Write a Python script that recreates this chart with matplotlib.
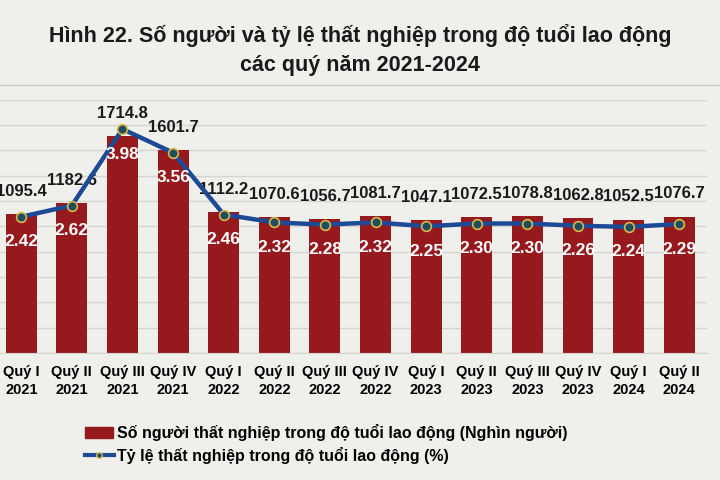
import matplotlib
matplotlib.use("Agg")
import matplotlib.pyplot as plt
from matplotlib import font_manager
import numpy as np

# Data
quarters = ["Quý I\n2021", "Quý II\n2021", "Quý III\n2021", "Quý IV\n2021",
            "Quý I\n2022", "Quý II\n2022", "Quý III\n2022", "Quý IV\n2022",
            "Quý I\n2023", "Quý II\n2023", "Quý III\n2023", "Quý IV\n2023",
            "Quý I\n2024", "Quý II\n2024"]
unemployed = [1095.4, 1182.6, 1714.8, 1601.7, 1112.2, 1070.6, 1056.7, 1081.7,
              1047.1, 1072.5, 1078.8, 1062.8, 1052.5, 1076.7]
rate = [2.42, 2.62, 3.98, 3.56, 2.46, 2.32, 2.28, 2.32,
        2.25, 2.30, 2.30, 2.26, 2.24, 2.29]

bar_label = "Số người thất nghiệp trong độ tuổi lao động (Nghìn người)"
line_label = "Tỷ lệ thất nghiệp trong độ tuổi lao động (%)"
title = "Hình 22. Số người và tỷ lệ thất nghiệp trong độ tuổi lao động\ncác quý năm 2021-2024"

# pick a narrow font if there is one
names = {f.name for f in font_manager.fontManager.ttflist}
font = "Liberation Sans Narrow" if "Liberation Sans Narrow" in names else "Liberation Sans"
plt.rcParams["font.family"] = [font, "DejaVu Sans"]

bg = "#efefec"
bar_color = "#961a1d"
line_color = "#1c4a94"

fig = plt.figure(figsize=(7.2, 4.8), dpi=100, facecolor=bg)
ax = fig.add_axes([0.0, 0.265, 0.982, 0.527], facecolor=bg)
ax2 = ax.twinx()

x = np.arange(len(quarters))
ax.bar(x, unemployed, width=0.61, color=bar_color, zorder=2)
ax.set_ylim(0, 2000)
ax.set_yticks(np.arange(0, 2001, 200))
ax.grid(axis="y", color="#d4d4d2", linewidth=1, zorder=0)
ax.set_xlim(-0.42, 13.55)
ax.set_xticks(x)
ax.set_xticklabels(quarters, fontsize=10.5, fontweight="bold", linespacing=1.3)
ax.tick_params(axis="x", length=0, pad=9)
ax.tick_params(axis="y", length=0, labelleft=False)
for s in ax.spines.values():
    s.set_visible(False)
ax.spines["bottom"].set_visible(True)
ax.spines["bottom"].set_color("#d4d4d2")

ax2.plot(x, rate, color=line_color, linewidth=3.2, marker="o", markersize=7,
         markerfacecolor="#1f4f5e", markeredgecolor="#d8b84a", markeredgewidth=1.2, zorder=3)
ax2.set_ylim(0, 4.5)
ax2.set_yticks([])
for s in ax2.spines.values():
    s.set_visible(False)

for xi, v in zip(x, unemployed):
    ax.annotate(f"{v:.1f}", (xi, v), xytext=(0, 11), textcoords="offset points",
                ha="center", va="bottom", fontsize=12, fontweight="bold", color="#1a1a1a")
for xi, v in zip(x, rate):
    ax2.annotate(f"{v:.2f}", (xi, v), xytext=(0, -18), textcoords="offset points",
                 ha="center", va="center", fontsize=12.5, fontweight="bold", color="white")

fig.text(0.5, 0.895, title, ha="center", va="center", fontsize=15.5,
         fontweight="bold", color="#1a1a1a", linespacing=1.5)
fig.add_artist(plt.Line2D([0, 1], [0.822, 0.822], color="#c8c8c6", linewidth=1))

# legend drawn by hand at the bottom
fig.patches.append(plt.Rectangle((0.118, 0.088), 0.039, 0.022, color=bar_color,
                                 transform=fig.transFigure))
fig.text(0.163, 0.099, bar_label, ha="left", va="center", fontsize=11.5, fontweight="bold")
fig.add_artist(plt.Line2D([0.118, 0.158], [0.052, 0.052], color=line_color, linewidth=3))
fig.add_artist(plt.Line2D([0.138], [0.052], marker="o", markersize=4,
                          markerfacecolor="#1f4f5e", markeredgecolor="#d8b84a"))
fig.text(0.163, 0.052, line_label, ha="left", va="center", fontsize=11.5, fontweight="bold")

fig.savefig("out.png", dpi=100, facecolor=bg)
